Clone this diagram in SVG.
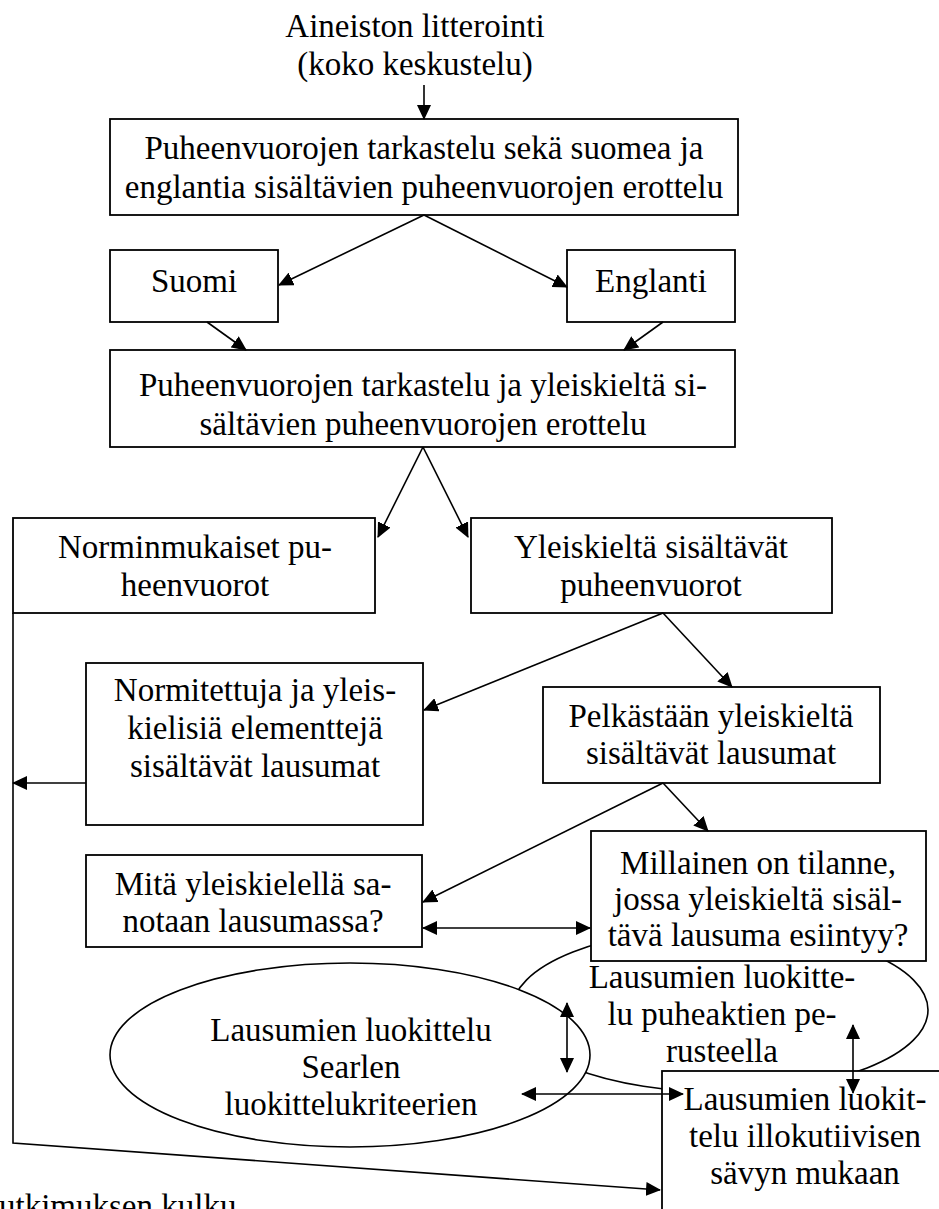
<svg xmlns="http://www.w3.org/2000/svg" width="939" height="1209" viewBox="0 0 939 1209">
<style>
text{font-family:"Liberation Serif","Times New Roman",serif;font-size:33px;fill:#000;text-anchor:middle}
.box{fill:#fff;stroke:#000;stroke-width:1.8}
.ell{fill:#fff;stroke:#000;stroke-width:1.6}
.ln{fill:none;stroke:#000;stroke-width:1.6}
.a{marker-end:url(#ah)}
.d{marker-start:url(#ah);marker-end:url(#ah)}
</style>
<defs>
<marker id="ah" markerUnits="userSpaceOnUse" markerWidth="15" markerHeight="14" refX="14" refY="7" orient="auto-start-reverse"><path d="M0,0 L15,7 L0,14 z" fill="#000"/></marker>
</defs>
<rect width="939" height="1209" fill="#fff"/>
<g id="title"><text x="415" y="37">Aineiston litterointi</text><text x="415" y="75">(koko keskustelu)</text></g>
<g id="n1"><rect class="box" x="110" y="119" width="628" height="96"/><text x="424" y="159">Puheenvuorojen tarkastelu sekä suomea ja</text><text x="424" y="198">englantia sisältävien puheenvuorojen erottelu</text></g>
<g id="n2"><rect class="box" x="110" y="250" width="168" height="72"/><text x="194" y="292">Suomi</text></g>
<g id="n3"><rect class="box" x="567" y="250" width="168" height="72"/><text x="651" y="292">Englanti</text></g>
<g id="n4"><rect class="box" x="110" y="350" width="625" height="97"/><text x="423" y="396">Puheenvuorojen tarkastelu ja yleiskieltä si-</text><text x="423" y="435">sältävien puheenvuorojen erottelu</text></g>
<g id="n5"><rect class="box" x="13" y="518" width="362" height="95"/><text x="195" y="558">Norminmukaiset pu-</text><text x="195" y="596">heenvuorot</text></g>
<g id="n6"><rect class="box" x="471" y="518" width="361" height="95"/><text x="651" y="558">Yleiskieltä sisältävät</text><text x="651" y="596">puheenvuorot</text></g>
<g id="n7"><rect class="box" x="86" y="663" width="337" height="162"/><text x="255" y="701">Normitettuja ja yleis-</text><text x="255" y="739">kielisiä elementtejä</text><text x="255" y="777">sisältävät lausumat</text></g>
<g id="n8"><rect class="box" x="543" y="687" width="337" height="96"/><text x="711" y="727">Pelkästään yleiskieltä</text><text x="711" y="764">sisältävät lausumat</text></g>
<g id="n9"><rect class="box" x="86" y="855" width="336" height="92"/><text x="253" y="895">Mitä yleiskielellä sa-</text><text x="253" y="932">notaan lausumassa?</text></g>
<g id="n11"><ellipse class="ell" cx="720" cy="1010" rx="208" ry="82"/><text x="722" y="988">Lausumien luokitte-</text><text x="722" y="1025">lu puheaktien pe-</text><text x="722" y="1062">rusteella</text></g>
<g id="n10"><rect class="box" x="591" y="831" width="335" height="130"/><text x="758" y="874">Millainen on tilanne,</text><text x="758" y="910">jossa yleiskieltä sisäl-</text><text x="758" y="946">tävä lausuma esiintyy?</text></g>
<g id="n12"><ellipse class="ell" cx="350" cy="1055" rx="240" ry="92"/><text x="351" y="1041">Lausumien luokittelu</text><text x="351" y="1078">Searlen</text><text x="351" y="1115">luokittelukriteerien</text></g>
<g id="n13"><rect class="box" x="662" y="1071" width="290" height="160"/><text x="805" y="1110">Lausumien luokit-</text><text x="805" y="1147">telu illokutiivisen</text><text x="805" y="1184">sävyn mukaan</text></g>
<g id="caption"><text x="-1" y="1217" style="text-anchor:start">utkimuksen kulku</text></g>
<g id="connectors">
<line class="ln a" x1="424" y1="85" x2="424" y2="119"/>
<line class="ln a" x1="424" y1="215" x2="279" y2="285"/>
<line class="ln a" x1="424" y1="215" x2="567" y2="287"/>
<line class="ln a" x1="207" y1="322" x2="246" y2="350"/>
<line class="ln a" x1="663" y1="322" x2="624" y2="350"/>
<line class="ln a" x1="423" y1="447" x2="378" y2="537"/>
<line class="ln a" x1="423" y1="447" x2="468" y2="537"/>
<line class="ln a" x1="663" y1="613" x2="424" y2="710"/>
<line class="ln a" x1="663" y1="613" x2="732" y2="687"/>
<line class="ln a" x1="86" y1="783" x2="13" y2="783"/>
<line class="ln a" x1="663" y1="783" x2="423" y2="902"/>
<line class="ln a" x1="663" y1="783" x2="708" y2="831"/>
<line class="ln d" x1="423" y1="928" x2="590" y2="928"/>
<line class="ln d" x1="567" y1="1003" x2="567" y2="1072"/>
<line class="ln d" x1="522" y1="1094" x2="683" y2="1094"/>
<line class="ln d" x1="853" y1="1025" x2="853" y2="1093"/>
<polyline class="ln a" points="13,613 13,1143 660,1190"/>
</g>
</svg>
